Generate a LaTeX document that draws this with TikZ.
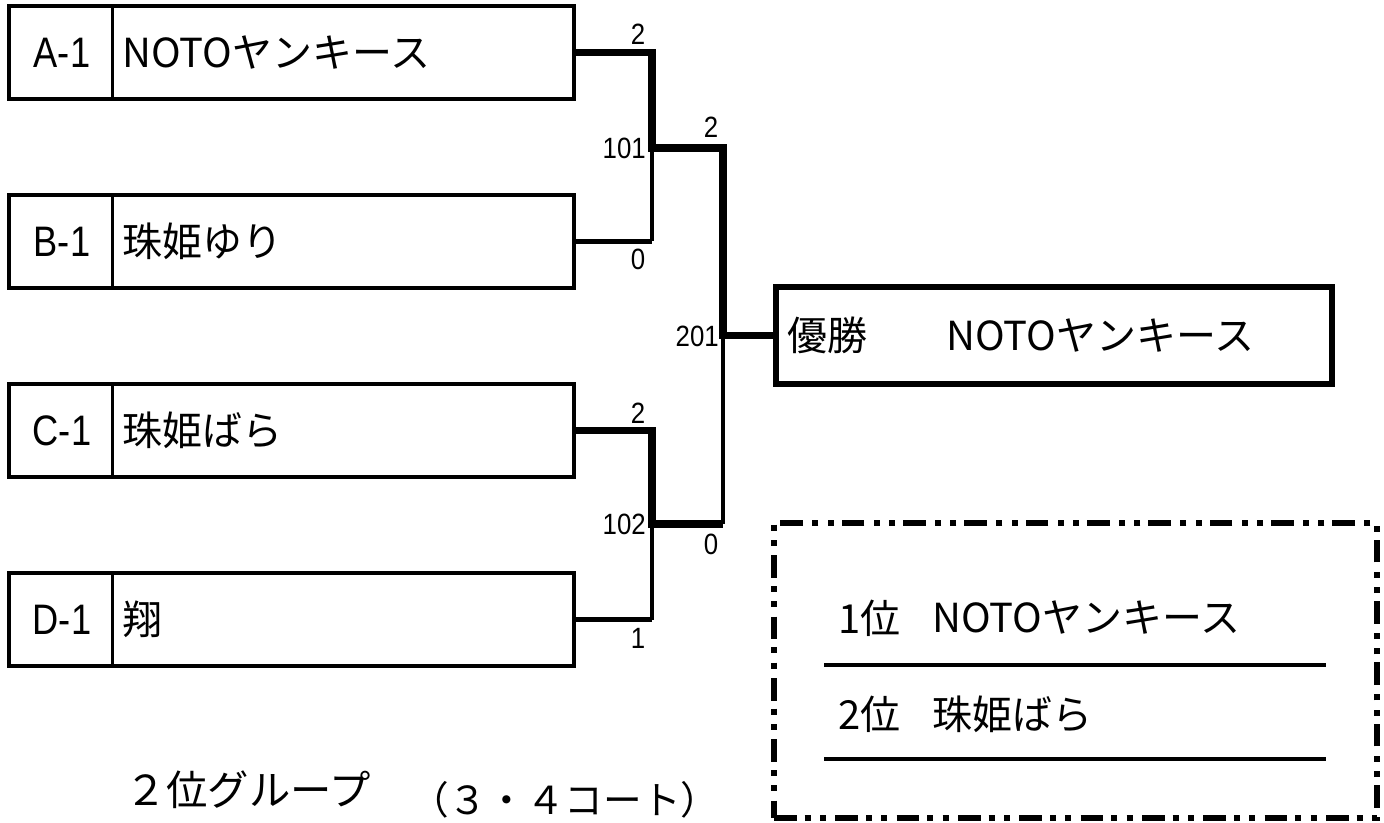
\documentclass[tikz,border=0pt]{standalone}
\usepackage{fontspec}
\setmainfont{Liberation Sans}
\newfontfamily\jp{Noto Sans CJK JP}
\begin{document}
\begin{tikzpicture}[x=0.75pt,y=-0.75pt,
  teambox/.style={draw,line width=2.6pt,minimum width=423.75pt,minimum height=69.75pt,inner sep=0pt},
  champbox/.style={draw,line width=4pt,minimum width=417pt,minimum height=72.75pt,inner sep=0pt},
  lab/.style={inner sep=0pt,font=\fontsize{32}{32}\selectfont},
  tname/.style={inner sep=0pt,anchor=west,font=\jp\fontsize{30}{30}\selectfont},
  score/.style={inner sep=0pt,font=\fontsize{22}{22}\selectfont},
  win/.style={line width=5.5pt,line join=miter},
  lose/.style={line width=4pt},
  thinl/.style={line width=2.6pt},
  dashbox/.style={draw,line width=4pt,dash pattern=on 17pt off 6pt on 4.5pt off 7pt on 4.5pt off 7pt},
  rule/.style={line width=2.4pt}]
\useasboundingbox (0,0) rectangle (1384,823);
\fill[white] (0,0) rectangle (1384,823);

% team boxes
\node[teambox] (A) at (291.5,52.5) {};
\node[teambox] (B) at (291.5,241.5) {};
\node[teambox] (C) at (291.5,430.5) {};
\node[teambox] (D) at (291.5,619.5) {};
\foreach \b in {A,B,C,D}{
  \draw[line width=1.9pt] ([xshift=78.75pt]\b.north west) -- ([xshift=78.75pt]\b.south west);
}
\node[lab] (Al) at (62,52.5) {\scalebox{0.85}[1]{A-1}};
\node[lab] (Bl) at (62,241.5) {\scalebox{0.85}[1]{B-1}};
\node[lab] (Cl) at (62,430.5) {\scalebox{0.85}[1]{C-1}};
\node[lab] (Dl) at (62,619.5) {\scalebox{0.85}[1]{D-1}};
\node[tname] (An) at (122,52.5) {NOTOヤンキース};
\node[tname] (Bn) at (122,241.5) {珠姫ゆり};
\node[tname] (Cn) at (122,430.5) {珠姫ばら};
\node[tname] (Dn) at (122,619.5) {翔};

% champion box
\node[champbox] (W) at (1054,335.5) {};
\node[tname] (Wl) at (787,335.5) {優勝};
\node[tname] (Wn) at (946,335.5) {NOTOヤンキース};

% junctions
\coordinate (m101) at (652,148);
\coordinate (m102) at (652,524);
\coordinate (m201) at (723,335.5);

% bracket lines
\draw[thinl] (B.east -| m101) -- (m101);
\draw[thinl] (D.east -| m102) -- (m102);
\draw[thinl] (m102 -| m201) -- (m201);
\draw[lose] (B.east) -- (B.east -| m101);
\draw[lose] (D.east) -- (D.east -| m102);
\draw[win] (C.east) -| (m102) -- (m102 -| m201);
\draw[win] (A.east) -| (m101) -- (m101 -| m201) -- (m201) -- (W.west);

% scores
\node[score] (s1) at (638,34) {\scalebox{0.88}[1]{2}};
\node[score,anchor=east] (s101) at (646,148) {\scalebox{0.88}[1]{101}};
\node[score] (s2) at (638,259) {\scalebox{0.88}[1]{0}};
\node[score] (s3) at (711,127) {\scalebox{0.88}[1]{2}};
\node[score,anchor=east] (s201) at (719,336) {\scalebox{0.88}[1]{201}};
\node[score] (s4) at (638,413) {\scalebox{0.88}[1]{2}};
\node[score,anchor=east] (s102) at (646,524) {\scalebox{0.88}[1]{102}};
\node[score] (s5) at (711,544) {\scalebox{0.88}[1]{0}};
\node[score] (s6) at (638,638) {\scalebox{0.88}[1]{1}};

% result box
\node[dashbox,minimum width=452.25pt,minimum height=221.25pt,inner sep=0pt] (R) at (1075.5,670.5) {};
\node[tname] (r1) at (838,618) {1位};
\node[tname] (r1n) at (932,618) {NOTOヤンキース};
\node[tname] (r2) at (838,714) {2位};
\node[tname] (r2n) at (932,714) {珠姫ばら};
\coordinate (l1a) at (824,665);
\coordinate (l1b) at (1326,665);
\coordinate (l2a) at (824,759);
\coordinate (l2b) at (1326,759);
\draw[rule] (l1a) -- (l1b);
\draw[rule] (l2a) -- (l2b);

% caption
\node[inner sep=0pt,anchor=west,font=\jp\fontsize{31}{31}\selectfont] (cap1) at (125,790) {２位グループ};
\node[inner sep=0pt,anchor=west,font=\jp\fontsize{29}{29}\selectfont] (cap2) at (410,800) {（３・４コート）};
\end{tikzpicture}
\end{document}
